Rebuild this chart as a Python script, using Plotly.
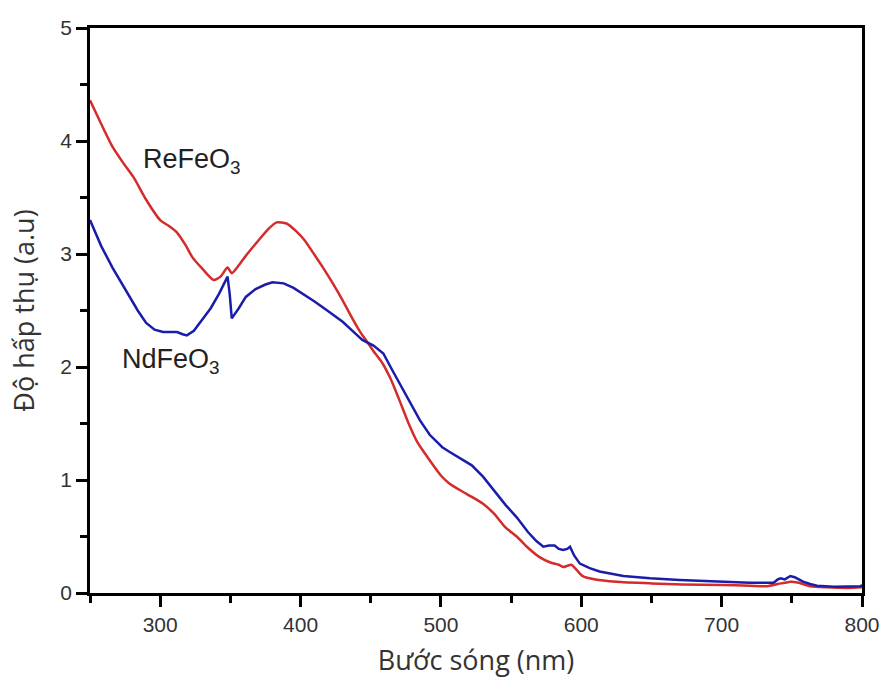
import plotly.graph_objects as go

# ReFeO3 (red)
re_x = [250,258,266,274,281,290,300,306,312,318,323,330,338,343,348,351,356,362,370,377,383,390,397,403,409,416,423,430,436,442,447,452,458,464,470,477,483,490,500,506,515,522,530,538,546,554,562,570,578,584,587,590,593,597,601,610,625,650,672,700,720,732,740,745,749,755,763,775,790,800]
re_y = [4.36,4.15,3.95,3.80,3.68,3.48,3.30,3.25,3.19,3.08,2.97,2.87,2.77,2.80,2.88,2.83,2.90,3.00,3.12,3.22,3.28,3.27,3.20,3.12,3.01,2.88,2.74,2.59,2.45,2.32,2.23,2.14,2.04,1.90,1.72,1.50,1.34,1.21,1.04,0.97,0.90,0.85,0.79,0.70,0.58,0.50,0.40,0.32,0.27,0.25,0.23,0.24,0.25,0.20,0.15,0.12,0.10,0.085,0.075,0.07,0.065,0.06,0.08,0.09,0.10,0.09,0.06,0.05,0.045,0.05]

# NdFeO3 (blue)
nd_x = [250,258,266,272,278,284,290,296,302,308,312,316,319,324,330,336,342,346,348,349.5,351,356,361,368,375,380,388,395,400,410,419,430,437,444,452,459,465,472,478,485,492,501,506,515,522,530,538,546,554,562,568,573,577,581,584,587,590,592,595,599,606,613,630,649,670,697,720,737,740,742,745,749,752,755,758,763,768,780,790,799,800]
nd_y = [3.30,3.07,2.88,2.75,2.62,2.50,2.39,2.33,2.31,2.31,2.31,2.29,2.28,2.32,2.42,2.52,2.65,2.75,2.80,2.65,2.43,2.52,2.62,2.69,2.73,2.75,2.74,2.70,2.66,2.58,2.50,2.40,2.32,2.24,2.19,2.12,1.98,1.82,1.68,1.53,1.40,1.29,1.25,1.18,1.13,1.03,0.90,0.78,0.67,0.54,0.46,0.41,0.42,0.42,0.39,0.38,0.39,0.41,0.33,0.26,0.22,0.19,0.15,0.13,0.115,0.10,0.09,0.09,0.12,0.13,0.12,0.15,0.14,0.12,0.10,0.08,0.065,0.055,0.055,0.06,0.07]

x_ticks = [300, 400, 500, 600, 700, 800]
y_ticks = [0, 1, 2, 3, 4, 5]

fig = go.Figure()
fig.add_trace(go.Scatter(x=re_x, y=re_y, mode="lines", name="ReFeO3",
                         line=dict(color="#d42b2b", width=2.5, shape="spline", smoothing=0.6)))
fig.add_trace(go.Scatter(x=nd_x, y=nd_y, mode="lines", name="NdFeO3",
                         line=dict(color="#1c1caa", width=2.5)))

tick_font = dict(family="Liberation Sans, Arial", size=21, color="#333")
label_font = dict(family="Liberation Sans, Arial", size=27, color="#222")
fig.add_annotation(x=286, y=3.82, xref="x", yref="y", xanchor="left", yanchor="middle",
                   text="ReFeO<sub>3</sub>", showarrow=False, font=label_font)
fig.add_annotation(x=271.5, y=2.05, xref="x", yref="y", xanchor="left", yanchor="middle",
                   text="NdFeO<sub>3</sub>", showarrow=False, font=label_font)

axis_common = dict(showline=True, linecolor="black", linewidth=2.5, mirror=True,
                   ticks="outside", ticklen=11, tickwidth=2.5, tickcolor="black",
                   showgrid=False, zeroline=False, tickfont=tick_font, automargin=False)

title_font = dict(family="Open Sans", size=27, color="#333")
fig.update_xaxes(range=[250, 800], tickvals=x_ticks,
                 minor=dict(dtick=50, tick0=250, ticks="outside", ticklen=7, tickwidth=2.5, tickcolor="black"),
                 title=dict(text="Bước sóng (nm)", font=title_font, standoff=19),
                 **axis_common)
fig.update_yaxes(range=[0, 5], tickvals=y_ticks,
                 minor=dict(dtick=0.5, tick0=0, ticks="outside", ticklen=7, tickwidth=2.5, tickcolor="black"),
                 title=dict(text="Độ hấp thụ (a.u)", font=title_font, standoff=18),
                 **axis_common)

fig.update_layout(width=883, height=678, showlegend=False,
                  margin=dict(l=90, r=21, t=28, b=85),
                  plot_bgcolor="white", paper_bgcolor="white")

fig.write_html("out.html", config={"displayModeBar": False},
               post_script="document.body.style.margin='0';document.body.style.overflow='hidden';")
